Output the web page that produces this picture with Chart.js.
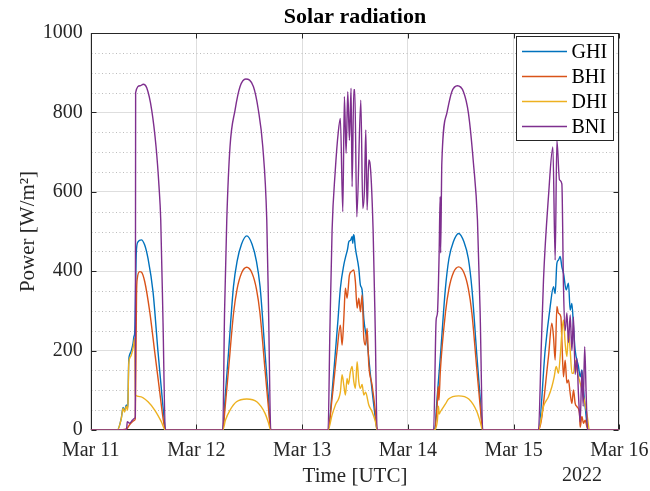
<!DOCTYPE html>
<html>
<head>
<meta charset="utf-8">
<script src="https://cdn.jsdelivr.net/npm/chart.js@4/dist/chart.umd.min.js"></script>
<style>
  html, body { margin: 0; padding: 0; background: #fff; }
</style>
</head>
<body>
<canvas id="chart" width="650" height="491"></canvas>
<script>
/* Solar radiation – five days, hours since Mar 11 00:00 UTC */

const dayLabels = ['Mar 11', 'Mar 12', 'Mar 13', 'Mar 14', 'Mar 15', 'Mar 16'];
const yearLabel = '2022';

// [hour, W/m2]
const ghi = [
    [0, 0],
    [6.04, 0], [6.95, 30], [7.34, 57], [7.68, 48], [8.08, 63], [8.36, 55], [8.47, 75], [8.63, 172], [8.86, 190],
    [9.22, 200], [9.61, 218], [9.83, 236], [9.99, 245], [10.36, 449], [10.74, 474], [11.49, 479], [12.26, 466],
    [13.01, 432], [14.15, 348], [15.28, 197], [16.03, 105], [16.65, 30], [16.94, 0],
    [29.98, 0], [30.53, 84], [31.28, 194], [32.41, 361], [33.23, 425], [34.23, 468], [35.43, 489], [36.63, 468],
    [37.63, 425], [38.45, 361], [39.58, 194], [40.33, 84], [40.88, 0],
    [53.89, 0], [54.8, 96], [55.55, 197], [56.16, 281], [56.68, 357], [57.46, 416], [57.98, 441], [58.3, 455],
    [58.59, 474], [59.0, 478], [59.34, 487], [59.5, 470], [59.65, 492], [59.8, 489], [60.09, 458], [60.86, 407],
    [61.23, 365], [61.61, 353], [62.0, 281], [62.75, 222], [63.5, 139], [64.63, 29], [65.02, 0],
    [78.05, 0], [78.63, 80], [79.38, 185], [80.51, 355], [81.33, 432], [82.33, 474], [83.53, 495], [84.73, 474],
    [85.73, 432], [86.55, 355], [87.68, 185], [88.43, 80], [89.0, 0],
    [101.65, 0], [103.17, 201], [104.31, 311], [105.06, 361], [105.44, 344], [105.83, 420], [106.19, 428],
    [106.58, 437], [106.96, 411], [107.33, 395], [107.94, 353], [108.46, 370], [108.85, 302], [109.24, 319],
    [109.6, 260], [109.98, 201], [110.73, 160], [111.12, 134], [111.51, 151], [111.87, 101], [112.25, 59],
    [112.64, 17], [113.01, 0],
    [120, 0],
];

const bhi = [
    [0, 0],
    [6.04, 0], [8.2, 3], [8.63, 10], [9.22, 18], [9.99, 25], [10.13, 30], [10.4, 340], [10.58, 382], [11.13, 399],
    [11.49, 398], [12.26, 374], [13.4, 298], [14.53, 197], [15.67, 96], [16.42, 30], [16.94, 0],
    [29.98, 0], [30.53, 59], [31.28, 151], [32.43, 294], [33.23, 355], [34.23, 395], [35.43, 410], [36.63, 395],
    [37.63, 355], [38.43, 294], [39.58, 151], [40.33, 59], [40.88, 0],
    [53.89, 0], [54.8, 80], [55.9, 197], [56.68, 264], [57.07, 214], [57.46, 281], [57.82, 357], [58.21, 332],
    [58.73, 390], [59.18, 399], [59.73, 403], [60.09, 373], [60.48, 307], [60.86, 332], [61.23, 298], [61.61, 340],
    [62.0, 231], [62.36, 214], [62.75, 256], [63.13, 164], [63.88, 113], [64.63, 46], [65.02, 0],
    [78.05, 0], [78.63, 58], [78.9, 110], [79.05, 75], [79.38, 150], [80.53, 295], [81.33, 356], [82.33, 396],
    [83.53, 411], [84.73, 396], [85.73, 356], [86.53, 295], [87.68, 150], [88.43, 58], [89.0, 0],
    [101.65, 0], [103.92, 185], [104.69, 269], [105.06, 235], [105.44, 176], [105.83, 311], [106.19, 294],
    [106.74, 285], [106.96, 227], [107.33, 134], [107.71, 176], [108.1, 118], [108.46, 126], [108.85, 92],
    [109.24, 67], [109.6, 101], [109.98, 67], [110.37, 59], [110.96, 42], [111.12, 7], [111.51, 34], [111.87, 17],
    [112.25, 25], [112.64, 8], [113.01, 0],
    [120, 0],
];

const dhi = [
    [0, 0],
    [6.04, 0], [6.95, 29], [7.34, 55], [7.68, 45], [8.08, 60], [8.36, 50], [8.47, 68], [8.63, 164], [8.86, 181],
    [9.22, 189], [9.61, 206], [9.83, 222], [9.99, 231], [10.13, 88], [11.13, 84], [13.01, 71], [14.53, 50],
    [16.03, 21], [16.94, 0],
    [29.98, 0], [30.6, 25], [31.63, 50], [33.1, 71], [35.43, 78], [37.7, 71], [39.58, 42], [40.3, 20], [40.88, 0],
    [53.89, 0], [54.8, 38], [55.55, 63], [56.68, 96], [57.07, 139], [57.46, 113], [57.82, 88], [58.21, 130],
    [58.5, 115], [58.96, 147], [59.34, 160], [59.73, 122], [60.09, 105], [60.48, 172], [60.86, 122], [61.23, 105],
    [61.61, 115], [62.0, 88], [62.4, 95], [63.13, 63], [63.88, 46], [64.63, 21], [65.02, 0],
    [78.05, 0], [78.68, 22], [78.95, 60], [79.1, 40], [79.38, 46], [80.5, 65], [81.23, 78], [83.53, 86],
    [85.83, 78], [87.68, 46], [88.38, 22], [89.0, 0],
    [101.65, 0], [102.79, 59], [103.92, 84], [104.69, 109], [105.22, 134], [105.67, 160], [106.19, 143],
    [106.58, 185], [106.96, 244], [107.33, 277], [107.71, 218], [108.1, 185], [108.46, 244], [108.85, 201],
    [109.24, 143], [109.6, 143], [109.98, 176], [110.37, 151], [110.73, 134], [111.12, 118], [111.87, 84],
    [112.64, 42], [113.23, 0],
    [120, 0],
];

const bni = [
    [0, 0],
    [8.0, 0], [8.2, 8], [8.3, 21], [8.86, 17], [9.5, 25], [10.0, 30], [10.13, 35], [10.2, 850], [11.2, 867],
    [11.95, 871], [12.72, 862], [13.85, 806], [14.83, 714], [15.51, 613], [15.9, 529], [16.42, 270], [16.94, 0],
    [29.98, 0], [30.39, 300], [30.89, 529], [31.63, 714], [32.77, 806], [33.91, 865], [35.2, 884], [36.93, 865],
    [38.06, 806], [39.06, 714], [39.97, 529], [40.38, 300], [40.88, 0],
    [53.89, 0], [54.3, 250], [54.8, 504], [55.5, 650], [56.2, 750], [56.68, 785], [57.23, 550], [57.59, 840],
    [57.98, 697], [58.36, 852], [58.73, 730], [59.11, 861], [59.34, 613], [59.73, 857], [59.95, 857], [60.41, 537],
    [61.32, 831], [61.77, 558], [62.14, 605], [62.45, 756], [62.75, 554], [63.13, 680], [63.36, 675], [64.11, 504],
    [64.6, 250], [65.02, 0],
    [77.85, 0], [78.42, 277], [78.71, 294], [79.1, 445], [79.33, 588], [79.44, 446], [79.71, 672], [80.85, 798],
    [81.98, 852], [83.25, 867], [84.62, 852], [85.75, 798], [86.89, 672], [87.8, 529], [88.4, 300], [89.0, 0],
    [101.65, 0], [102.26, 200], [102.79, 378], [103.92, 588], [104.92, 713], [105.44, 428], [105.83, 730],
    [106.42, 630], [106.96, 620], [107.33, 360], [107.71, 250], [108.1, 295], [108.46, 220], [108.85, 290],
    [109.24, 200], [109.6, 285], [109.98, 140], [110.37, 180], [110.73, 90], [111.12, 20], [111.51, 150],
    [111.8, 60], [112.14, 210], [112.48, 90], [112.78, 0],
    [120, 0],
];

const FONT = "'Liberation Serif', 'Times New Roman', serif";
const INK = '#262626';
const GRID = '#dedede';
const MINOR = '#bdbdbd';

const SERIES = [
    { label: 'GHI', data: ghi, color: '#0072BD' },
    { label: 'BHI', data: bhi, color: '#D95319' },
    { label: 'DHI', data: dhi, color: '#EDB120' },
    { label: 'BNI', data: bni, color: '#7E2F8E' },
];

// grid minor lines, axes box with inward ticks, legend box, year label
const frame = {
    id: 'frame',
    beforeDatasetsDraw(chart) {
        const { ctx, chartArea: a, scales: { x, y } } = chart;
        const L = Math.round(a.left) + 0.5, R = Math.round(a.right) - 0.5;
        const T = Math.round(a.top) + 0.5, B = Math.round(a.bottom) - 0.5;
        ctx.save();
        ctx.lineWidth = 1;
        ctx.strokeStyle = MINOR;
        ctx.setLineDash([1, 2.5]);
        for (let v = 50; v < 1000; v += 50) {
            if (v % 200 === 0) continue;
            const py = Math.round(y.getPixelForValue(v)) + 0.5;
            ctx.beginPath();
            ctx.moveTo(L, py);
            ctx.lineTo(R, py);
            ctx.stroke();
        }
        ctx.setLineDash([]);

        ctx.strokeStyle = INK;
        ctx.strokeRect(L, T, R - L, B - T);
        ctx.beginPath();
        x.ticks.forEach((t) => {
            const px = Math.round(x.getPixelForValue(t.value)) + 0.5;
            ctx.moveTo(px, B); ctx.lineTo(px, B - 5);
            ctx.moveTo(px, T); ctx.lineTo(px, T + 5);
        });
        y.ticks.forEach((t) => {
            const py = Math.round(y.getPixelForValue(t.value)) + 0.5;
            ctx.moveTo(L, py); ctx.lineTo(L + 5, py);
            ctx.moveTo(R, py); ctx.lineTo(R - 5, py);
        });
        ctx.stroke();
        ctx.restore();
    },
    afterDraw(chart) {
        const { ctx, chartArea: a } = chart;
        ctx.save();
        // year under last date
        ctx.fillStyle = INK;
        ctx.font = `20px ${FONT}`;
        ctx.textAlign = 'center';
        ctx.textBaseline = 'middle';
        ctx.fillText(yearLabel, 582, 476);

        // legend
        const bx = Math.round(a.right - 103) + 0.5;
        const by = Math.round(a.top + 3) + 0.5;
        const bw = 97, bh = 104;
        ctx.fillStyle = '#fff';
        ctx.fillRect(bx, by, bw, bh);
        ctx.strokeStyle = INK;
        ctx.lineWidth = 1;
        ctx.strokeRect(bx, by, bw, bh);
        ctx.textAlign = 'left';
        SERIES.forEach((s, i) => {
            const ly = by + 15 + i * 25;
            ctx.strokeStyle = s.color;
            ctx.lineWidth = 1.4;
            ctx.beginPath();
            ctx.moveTo(bx + 5.5, ly);
            ctx.lineTo(bx + 50.5, ly);
            ctx.stroke();
            ctx.fillStyle = '#000';
            ctx.fillText(s.label, bx + 55, ly + 1);
        });
        ctx.restore();
    },
};

new Chart(document.getElementById('chart'), {
    type: 'line',
    data: {
        datasets: SERIES.map((s, i) => ({
            label: s.label,
            data: s.data.map(([x, y]) => ({ x, y })),
            borderColor: s.color,
            backgroundColor: s.color,
            borderWidth: 1.4,
            borderJoinStyle: 'round',
            pointRadius: 0,
            cubicInterpolationMode: 'monotone',
            order: SERIES.length - i,
        })),
    },
    options: {
        responsive: false,
        animation: false,
        events: [],
        layout: { padding: { left: 0, right: 30.7, top: 0, bottom: 0 } },
        plugins: {
            legend: { display: false },
            tooltip: { enabled: false },
            title: {
                display: true,
                fullSize: false,
                text: 'Solar radiation',
                color: '#000',
                font: { family: FONT, size: 22, weight: 'bold' },
                padding: { top: 4, bottom: 2.6 },
            },
        },
        scales: {
            x: {
                type: 'linear',
                min: 0,
                max: 120,
                afterFit: (s) => { s.height = 61; s.paddingLeft = 0; s.paddingRight = 0; },
                border: { display: false },
                grid: { color: GRID, drawTicks: false },
                ticks: {
                    stepSize: 24,
                    padding: 9,
                    maxRotation: 0,
                    autoSkip: false,
                    color: INK,
                    font: { family: FONT, size: 20 },
                    callback: (v) => dayLabels[Math.round(v / 24)],
                },
                title: {
                    display: true,
                    text: 'Time [UTC]',
                    color: INK,
                    font: { family: FONT, size: 21 },
                    padding: { top: 0, bottom: 2.4 },
                },
            },
            y: {
                min: 0,
                max: 1000,
                afterFit: (s) => { s.width = 90.7; s.paddingTop = 0; s.paddingBottom = 0; },
                border: { display: false },
                grid: { color: GRID, drawTicks: false },
                ticks: {
                    stepSize: 200,
                    padding: 8,
                    color: INK,
                    font: { family: FONT, size: 20 },
                    callback: (v) => String(v),
                },
                title: {
                    display: true,
                    text: 'Power [W/m²]',
                    color: INK,
                    font: { family: FONT, size: 21 },
                    padding: { top: 16, bottom: 0 },
                },
            },
        },
    },
    plugins: [frame],
});
</script>
</body>
</html>
